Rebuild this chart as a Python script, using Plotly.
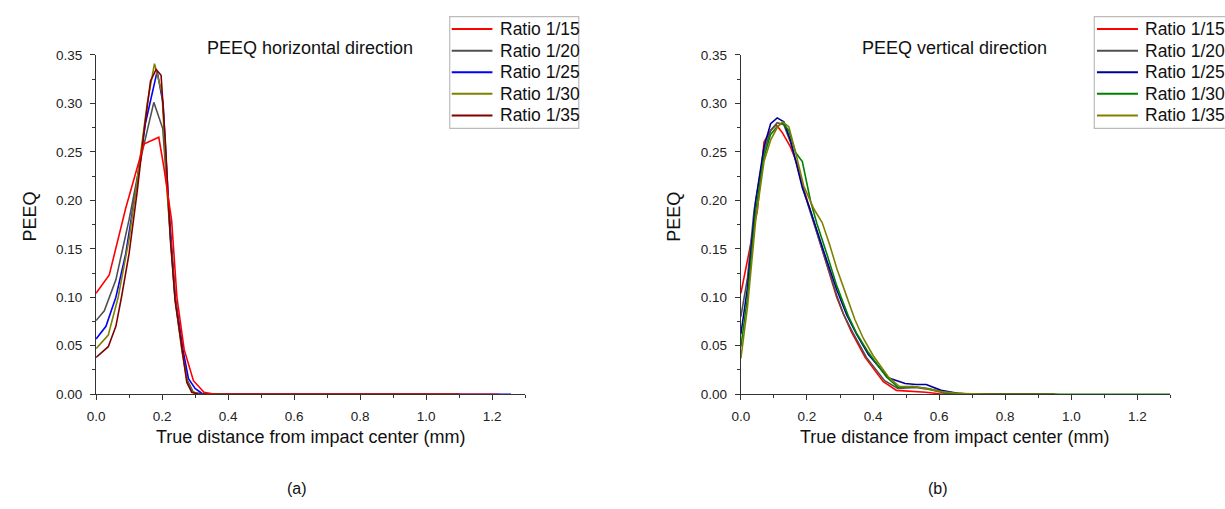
import plotly.graph_objects as go

W, H = 1225, 509

# ---------------- data: left panel (horizontal direction) ----------------
h_names = ["Ratio 1/15", "Ratio 1/20", "Ratio 1/25", "Ratio 1/30", "Ratio 1/35"]
h_colors = ["#FF0000", "#505050", "#0000FF", "#808000", "#800000"]

h15_x = [0, 0.04, 0.09, 0.145, 0.19, 0.205, 0.229, 0.245, 0.267, 0.295, 0.327, 0.36, 0.6, 0.9, 1.22]
h15_y = [0.104, 0.123, 0.192, 0.258, 0.265, 0.235, 0.179, 0.10, 0.046, 0.014, 0.002, 0, 0, 0, 0]

h20_x = [0, 0.025, 0.06, 0.10, 0.14, 0.175, 0.202, 0.217, 0.239, 0.262, 0.277, 0.295, 0.33, 0.6, 1.0]
h20_y = [0.076, 0.086, 0.118, 0.18, 0.25, 0.301, 0.274, 0.2, 0.1, 0.046, 0.014, 0.002, 0, 0, 0]

h25_x = [0, 0.03, 0.06, 0.09, 0.12, 0.15, 0.185, 0.203, 0.219, 0.24, 0.263, 0.28, 0.30, 0.32, 0.35, 0.8, 1.257]
h25_y = [0.057, 0.070, 0.10, 0.145, 0.21, 0.28, 0.333, 0.30, 0.2, 0.1, 0.046, 0.016, 0.006, 0.001, 0, 0, 0]

h30_x = [0, 0.037, 0.067, 0.10, 0.13, 0.155, 0.177, 0.20, 0.217, 0.239, 0.26, 0.277, 0.29, 0.31, 0.34, 0.8, 1.1]
h30_y = [0.047, 0.061, 0.10, 0.16, 0.235, 0.30, 0.341, 0.31, 0.2, 0.1, 0.045, 0.012, 0.003, 0, 0, 0, 0]

h35_x = [0, 0.037, 0.06, 0.077, 0.10, 0.125, 0.145, 0.165, 0.182, 0.197, 0.21, 0.225, 0.24, 0.26, 0.275, 0.29, 0.31, 0.8, 1.1]
h35_y = [0.038, 0.049, 0.07, 0.1, 0.145, 0.21, 0.27, 0.323, 0.335, 0.329, 0.26, 0.16, 0.095, 0.045, 0.012, 0.002, 0, 0, 0]

# ---------------- data: right panel (vertical direction) ----------------
v_names = ["Ratio 1/15", "Ratio 1/20", "Ratio 1/25", "Ratio 1/30", "Ratio 1/35"]
v_colors = ["#FF0000", "#505050", "#000099", "#008000", "#808000"]

v15_x = [0, 0.033, 0.05, 0.07, 0.09, 0.107, 0.125, 0.15, 0.17, 0.19, 0.21, 0.23, 0.26, 0.29, 0.31, 0.335, 0.376, 0.431, 0.471, 0.52, 0.56, 0.60, 0.65, 0.9]
v15_y = [0.104, 0.160, 0.19, 0.26, 0.272, 0.278, 0.270, 0.255, 0.238, 0.212, 0.19, 0.168, 0.133, 0.10, 0.083, 0.064, 0.038, 0.013, 0.004, 0.003, 0.002, 0.0005, 0, 0]

v20_x = [0, 0.02, 0.04, 0.07, 0.09, 0.11, 0.13, 0.15, 0.17, 0.19, 0.21, 0.23, 0.26, 0.29, 0.31, 0.338, 0.38, 0.435, 0.475, 0.53, 0.57, 0.62, 0.7, 0.95]
v20_y = [0.08, 0.12, 0.19, 0.25, 0.272, 0.28, 0.278, 0.26, 0.236, 0.21, 0.188, 0.166, 0.134, 0.102, 0.083, 0.064, 0.038, 0.014, 0.006, 0.007, 0.005, 0.001, 0, 0]

v25_x = [0, 0.02, 0.045, 0.07, 0.09, 0.11, 0.13, 0.15, 0.17, 0.186, 0.21, 0.23, 0.256, 0.29, 0.32, 0.35, 0.386, 0.446, 0.497, 0.53, 0.561, 0.606, 0.656, 0.7, 0.95]
v25_y = [0.062, 0.11, 0.2, 0.255, 0.279, 0.285, 0.281, 0.262, 0.235, 0.213, 0.19, 0.168, 0.142, 0.108, 0.082, 0.062, 0.041, 0.017, 0.011, 0.010, 0.010, 0.004, 0.001, 0, 0]

v30_x = [0, 0.02, 0.045, 0.07, 0.09, 0.11, 0.126, 0.145, 0.166, 0.186, 0.211, 0.23, 0.26, 0.29, 0.326, 0.35, 0.386, 0.44, 0.476, 0.521, 0.566, 0.616, 0.7, 1.0, 1.3]
v30_y = [0.049, 0.1, 0.19, 0.245, 0.268, 0.276, 0.280, 0.272, 0.249, 0.240, 0.199, 0.176, 0.145, 0.112, 0.080, 0.063, 0.043, 0.018, 0.007, 0.008, 0.006, 0.002, 0, 0, 0]

v35_x = [0, 0.02, 0.045, 0.07, 0.09, 0.11, 0.126, 0.145, 0.165, 0.19, 0.221, 0.246, 0.268, 0.29, 0.318, 0.345, 0.37, 0.40, 0.446, 0.48, 0.52, 0.56, 0.60, 0.65, 0.75, 0.96]
v35_y = [0.037, 0.09, 0.18, 0.24, 0.262, 0.275, 0.281, 0.276, 0.25, 0.215, 0.191, 0.177, 0.155, 0.13, 0.103, 0.077, 0.058, 0.04, 0.018, 0.008, 0.008, 0.006, 0.003, 0.001, 0, 0]

h_x = [h15_x, h20_x, h25_x, h30_x, h35_x]
h_y = [h15_y, h20_y, h25_y, h30_y, h35_y]
v_x = [v15_x, v20_x, v25_x, v30_x, v35_x]
v_y = [v15_y, v20_y, v25_y, v30_y, v35_y]

x_tickvals = [0.0, 0.2, 0.4, 0.6, 0.8, 1.0, 1.2]
y_tickvals = [0.00, 0.05, 0.10, 0.15, 0.20, 0.25, 0.30, 0.35]

FONT = "Liberation Sans, Arial, sans-serif"
AX = "#333333"


def px(x):
    return x / W


def py(y):
    return 1 - y / H


fig = go.Figure()

# left panel: red drawn last so it sits on top in the tail
left_order = [1, 2, 3, 4, 0]
for i in left_order:
    fig.add_trace(go.Scatter(x=h_x[i], y=h_y[i], mode="lines", name=h_names[i],
                             line=dict(color=h_colors[i], width=1.6),
                             xaxis="x", yaxis="y", showlegend=False))
for i in range(5):
    fig.add_trace(go.Scatter(x=v_x[i], y=v_y[i], mode="lines", name=v_names[i],
                             line=dict(color=v_colors[i], width=1.6),
                             xaxis="x2", yaxis="y2", showlegend=False))

ydom = [py(399), py(49.3)]
common_x = dict(range=[0, 1.3], tickvals=x_tickvals, tickformat=".1f", showline=True,
                linecolor=AX, linewidth=1.3, ticks="outside", ticklen=5, tickwidth=1.2,
                tickcolor=AX, showgrid=False, zeroline=False, ticklabelstandoff=4,
                tickfont=dict(family=FONT, size=13.5, color="#222222"),
                minor=dict(dtick=0.1, tick0=0, ticks="outside", ticklen=3, tickcolor=AX,
                           tickwidth=1, showgrid=False))
common_y = dict(range=[0, 0.35], tickvals=y_tickvals, tickformat=".2f", showline=True,
                linecolor=AX, linewidth=1.3, ticks="outside", ticklen=5, tickwidth=1.2,
                tickcolor=AX, showgrid=False, zeroline=False, ticklabelstandoff=5,
                tickfont=dict(family=FONT, size=13.5, color="#222222"),
                minor=dict(dtick=0.025, tick0=0, ticks="outside", ticklen=3, tickcolor=AX,
                           tickwidth=1, showgrid=False))

fig.update_layout(
    width=W, height=H,
    margin=dict(l=0, r=0, t=0, b=0),
    paper_bgcolor="white", plot_bgcolor="white",
    xaxis=dict(domain=[px(87.7), px(520)], anchor="y", **common_x),
    yaxis=dict(domain=ydom, anchor="x", **common_y),
    xaxis2=dict(domain=[px(737.3), px(1170)], anchor="y2", **common_x),
    yaxis2=dict(domain=ydom, anchor="x2", **common_y),
    showlegend=False,
)

# ---------------- legends (boxes with line samples and labels) ----------------
leg_font = dict(family=FONT, size=17.5, color="#111111")
row_y = [22.7, 45.0, 67.3, 89.3, 111.7]
for (bx0, bx1, lx0, lx1, tx, names, colors) in [
        (444, 574, 446, 487, 492.3, h_names, h_colors),
        (1093.3, 1228, 1096, 1137.3, 1142.7, v_names, v_colors)]:
    fig.add_shape(type="rect", xref="paper", yref="paper",
                  x0=px(bx0), x1=px(bx1), y0=py(125), y1=py(10),
                  line=dict(color="#BBBBBB", width=1.2), fillcolor="white", layer="above")
    for name, col, ry in zip(names, colors, row_y):
        fig.add_shape(type="line", xref="paper", yref="paper",
                      x0=px(lx0), x1=px(lx1), y0=py(ry), y1=py(ry),
                      line=dict(color=col, width=2), layer="above")
        fig.add_annotation(text=name, xref="paper", yref="paper", x=px(tx), y=py(ry),
                           xanchor="left", yanchor="middle", showarrow=False, font=leg_font)

ann_font = dict(family=FONT, size=18, color="#111111")
annots = [
    dict(text="PEEQ horizontal direction", x=px(303), y=py(42)),
    dict(text="PEEQ vertical direction", x=px(953), y=py(42)),
    dict(text="True distance from impact center (mm)", x=px(304), y=py(443)),
    dict(text="True distance from impact center (mm)", x=px(953), y=py(443)),
    dict(text="(a)", x=px(290), y=py(496), size=16),
    dict(text="(b)", x=px(936), y=py(496), size=16),
]
for a in annots:
    f = dict(ann_font)
    if "size" in a:
        f["size"] = a.pop("size")
    fig.add_annotation(xref="paper", yref="paper", showarrow=False,
                       xanchor="center", yanchor="middle", font=f, **a)
for xx in (21, 670):
    fig.add_annotation(text="PEEQ", xref="paper", yref="paper", x=px(xx), y=py(216),
                       showarrow=False, textangle=-90, xanchor="center", yanchor="middle",
                       font=ann_font)

fig.write_html("out.html")
